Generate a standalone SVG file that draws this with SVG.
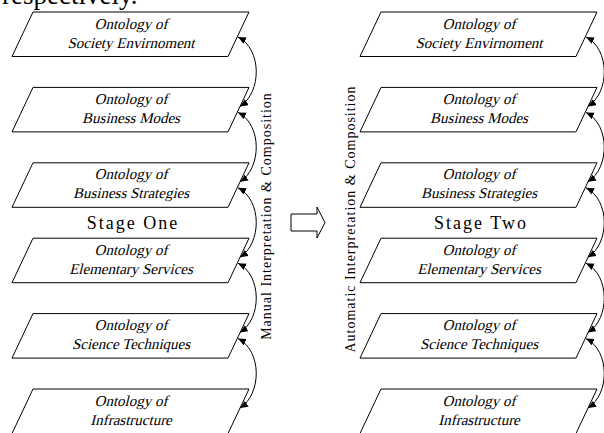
<svg xmlns="http://www.w3.org/2000/svg" width="604" height="433" viewBox="0 0 604 433" font-family="Liberation Serif, Times New Roman, serif">
<defs>
<style>
text{font-family:Liberation Serif, Times New Roman, serif;fill:#000}
.node{fill:#fff;stroke:#000;stroke-width:1}
.lbl{font-size:15px;text-anchor:middle}
.stage{font-size:18px;letter-spacing:2px;text-anchor:middle}
.vert{font-size:14px;letter-spacing:1px;text-anchor:middle}
.arc{fill:none;stroke:#000;stroke-width:1;marker-start:url(#ah);marker-end:url(#ah)}
</style>
<marker id="ah" markerUnits="userSpaceOnUse" markerWidth="9" markerHeight="8" refX="8" refY="3.5" orient="auto-start-reverse">
<path d="M0,0 L8,3.5 L0,7 Z" fill="#000"/>
</marker>
</defs>
<rect width="604" height="433" fill="#fff"/>
<text x="2" y="4" font-size="27">respectively.</text>

<g id="stage-one">
<g id="n1-1"><polygon class="node" points="33,12 249,12 228,56.5 12,56.5"/><text class="lbl" transform="translate(131 28.5) skewX(-14)">Ontology of</text><text class="lbl" transform="translate(131 47.5) skewX(-14)">Society Envirnoment</text></g>
<g id="n1-2"><polygon class="node" points="33,87.4 249,87.4 228,131.9 12,131.9"/><text class="lbl" transform="translate(131 103.9) skewX(-14)">Ontology of</text><text class="lbl" transform="translate(131 122.9) skewX(-14)">Business Modes</text></g>
<g id="n1-3"><polygon class="node" points="33,162.8 249,162.8 228,207.3 12,207.3"/><text class="lbl" transform="translate(131 179.3) skewX(-14)">Ontology of</text><text class="lbl" transform="translate(131 198.3) skewX(-14)">Business Strategies</text></g>
<g id="n1-4"><polygon class="node" points="33,238.2 249,238.2 228,282.7 12,282.7"/><text class="lbl" transform="translate(131 254.7) skewX(-14)">Ontology of</text><text class="lbl" transform="translate(131 273.7) skewX(-14)">Elementary Services</text></g>
<g id="n1-5"><polygon class="node" points="33,313.6 249,313.6 228,358.1 12,358.1"/><text class="lbl" transform="translate(131 330.1) skewX(-14)">Ontology of</text><text class="lbl" transform="translate(131 349.1) skewX(-14)">Science Techniques</text></g>
<g id="n1-6"><polygon class="node" points="33,389 249,389 228,433.5 12,433.5"/><text class="lbl" transform="translate(131 405.5) skewX(-14)">Ontology of</text><text class="lbl" transform="translate(131 424.5) skewX(-14)">Infrastructure</text></g>
<text class="stage" x="133" y="229">Stage One</text>
<text class="vert" transform="translate(271,216) rotate(-90)">Manual Interpretation &amp; Composition</text>
</g>

<g id="stage-two">
<g id="n2-1"><polygon class="node" points="381,12 597,12 576,56.5 360,56.5"/><text class="lbl" transform="translate(479 28.5) skewX(-14)">Ontology of</text><text class="lbl" transform="translate(479 47.5) skewX(-14)">Society Envirnoment</text></g>
<g id="n2-2"><polygon class="node" points="381,87.4 597,87.4 576,131.9 360,131.9"/><text class="lbl" transform="translate(479 103.9) skewX(-14)">Ontology of</text><text class="lbl" transform="translate(479 122.9) skewX(-14)">Business Modes</text></g>
<g id="n2-3"><polygon class="node" points="381,162.8 597,162.8 576,207.3 360,207.3"/><text class="lbl" transform="translate(479 179.3) skewX(-14)">Ontology of</text><text class="lbl" transform="translate(479 198.3) skewX(-14)">Business Strategies</text></g>
<g id="n2-4"><polygon class="node" points="381,238.2 597,238.2 576,282.7 360,282.7"/><text class="lbl" transform="translate(479 254.7) skewX(-14)">Ontology of</text><text class="lbl" transform="translate(479 273.7) skewX(-14)">Elementary Services</text></g>
<g id="n2-5"><polygon class="node" points="381,313.6 597,313.6 576,358.1 360,358.1"/><text class="lbl" transform="translate(479 330.1) skewX(-14)">Ontology of</text><text class="lbl" transform="translate(479 349.1) skewX(-14)">Science Techniques</text></g>
<g id="n2-6"><polygon class="node" points="381,389 597,389 576,433.5 360,433.5"/><text class="lbl" transform="translate(479 405.5) skewX(-14)">Ontology of</text><text class="lbl" transform="translate(479 424.5) skewX(-14)">Infrastructure</text></g>
<text class="stage" x="481" y="229">Stage Two</text>
<text class="vert" transform="translate(355,219) rotate(-90)">Automatic Interpretation &amp; Composition</text>
</g>

<g id="transition">
<polygon points="291,214 317,214 317,207 325,222.5 317,238 317,231 291,231" fill="#fff" stroke="#000" stroke-width="1"/>
</g>

<g id="connectors">
<path class="arc" d="M238,37 C262,49 262,92.4 240,106.4"/>
<path class="arc" d="M238,112.4 C262,124.4 262,167.8 240,181.8"/>
<path class="arc" d="M238,187.8 C262,199.8 262,243.2 240,257.2"/>
<path class="arc" d="M238,263.2 C262,275.2 262,318.6 240,332.6"/>
<path class="arc" d="M238,338.6 C262,350.6 262,394 240,408"/>
<path class="arc" d="M586,37 C610,49 610,92.4 588,106.4"/>
<path class="arc" d="M586,112.4 C610,124.4 610,167.8 588,181.8"/>
<path class="arc" d="M586,187.8 C610,199.8 610,243.2 588,257.2"/>
<path class="arc" d="M586,263.2 C610,275.2 610,318.6 588,332.6"/>
<path class="arc" d="M586,338.6 C610,350.6 610,394 588,408"/>
</g>
</svg>
